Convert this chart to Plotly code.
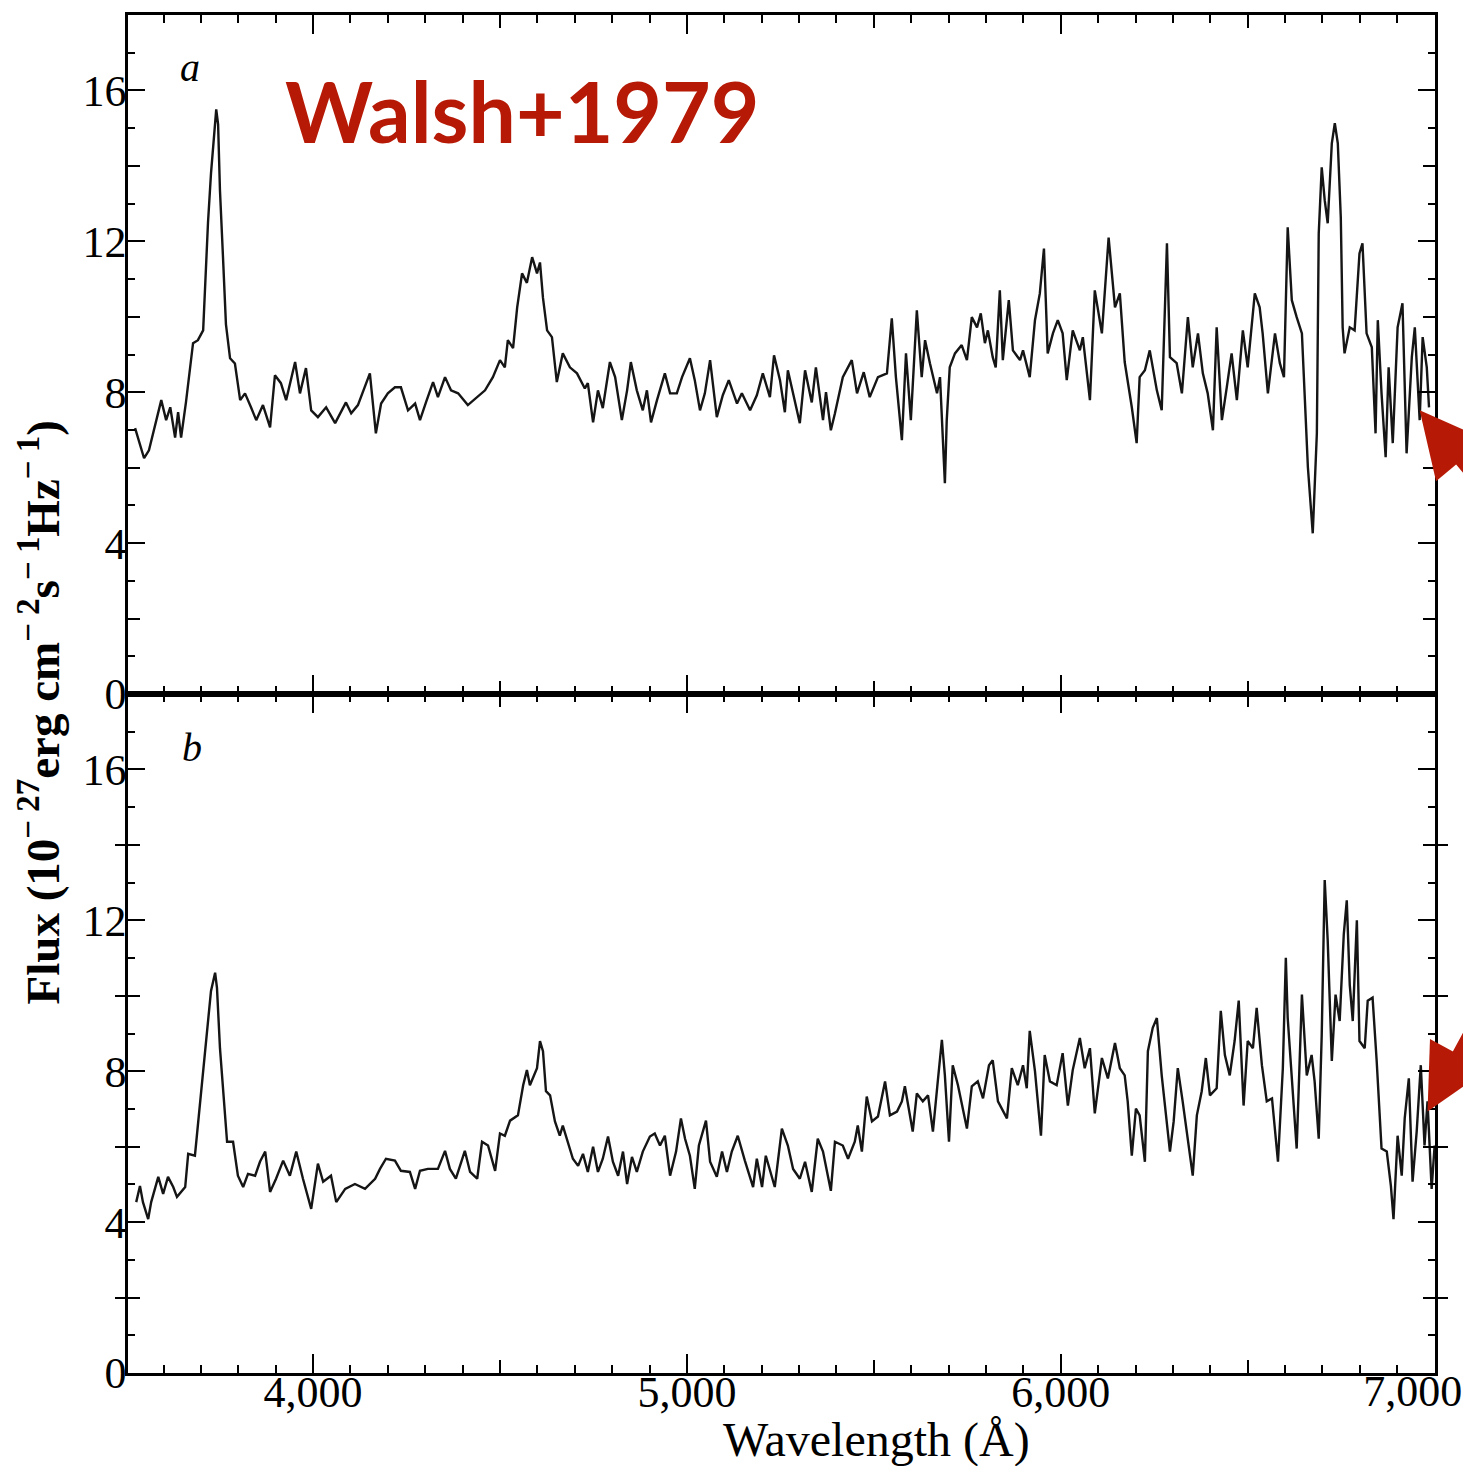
import plotly.graph_objects as go
from plotly.subplots import make_subplots

# ---- Panel a (image A) ----
wave_a = [3524, 3537, 3548, 3561, 3575, 3588, 3594, 3607, 3618, 3631, 3639, 3647, 3660, 3679, 3692,
          3706, 3711, 3719, 3727, 3735, 3741, 3746, 3751, 3759, 3767, 3778, 3791, 3805, 3818, 3834,
          3848, 3866, 3885, 3898, 3914, 3928, 3952, 3965, 3981, 3995, 4013, 4035, 4059, 4088, 4102,
          4120, 4152, 4168, 4182, 4200, 4219, 4235, 4254, 4273, 4286, 4302, 4321, 4334, 4353, 4369,
          4388, 4414, 4439, 4460, 4481, 4500, 4513, 4521, 4535, 4546, 4559, 4572, 4586, 4599, 4607,
          4615, 4626, 4639, 4652, 4668, 4687, 4706, 4727, 4735, 4749, 4762, 4775, 4794, 4808, 4826,
          4840, 4850, 4866, 4882, 4893, 4904, 4920, 4941, 4955, 4973, 4987, 5008, 5021, 5035, 5048,
          5062, 5080, 5096, 5112, 5134, 5147, 5169, 5187, 5203, 5222, 5233, 5249, 5262, 5270, 5284,
          5302, 5316, 5334, 5345, 5364, 5372, 5385, 5396, 5417, 5441, 5455, 5473, 5489, 5511, 5535,
          5548, 5559, 5575, 5586, 5599, 5615, 5628, 5637, 5650, 5669, 5677, 5685, 5690, 5695, 5703,
          5717, 5735, 5749, 5762, 5776, 5786, 5797, 5805, 5818, 5826, 5837, 5845, 5861, 5872, 5891,
          5899, 5917, 5931, 5944, 5955, 5965, 5979, 5992, 6005, 6016, 6032, 6051, 6059, 6078, 6091,
          6110, 6128, 6145, 6158, 6171, 6190, 6203, 6211, 6225, 6238, 6257, 6270, 6284, 6292, 6310,
          6324, 6340, 6353, 6367, 6380, 6393, 6407, 6417, 6431, 6444, 6457, 6471, 6487, 6500, 6519,
          6532, 6540, 6554, 6573, 6586, 6597, 6607, 6618, 6631, 6645, 6653, 6661, 6674, 6685, 6690,
          6698, 6706, 6714, 6725, 6733, 6741, 6749, 6754, 6759, 6773, 6786, 6799, 6807, 6818, 6832,
          6842, 6848, 6858, 6869, 6877, 6888, 6901, 6914, 6925, 6939, 6947, 6960, 6968, 6979, 6985]
flux_a = [7.05, 6.6, 6.25, 6.46, 7.0, 7.58, 7.79, 7.26, 7.6, 6.8, 7.47, 6.8, 7.73, 9.3, 9.38,
          9.64, 10.9, 12.5, 13.8, 14.9, 15.5, 15.1, 13.35, 11.6, 9.8, 8.9, 8.76, 7.79, 7.97, 7.6,
          7.26, 7.66, 7.07, 8.45, 8.24, 7.79, 8.8, 7.97, 8.64, 7.52, 7.34, 7.6, 7.18, 7.73, 7.44,
          7.66, 8.5, 6.91, 7.7, 7.97, 8.13, 8.13, 7.52, 7.7, 7.26, 7.73, 8.27, 7.87, 8.4, 8.05,
          7.97, 7.66, 7.87, 8.05, 8.4, 8.85, 8.66, 9.38, 9.17, 10.25, 11.15, 10.9, 11.58, 11.15, 11.44,
          10.5, 9.64, 9.46, 8.27, 9.03, 8.66, 8.5, 8.1, 8.24, 7.2, 8.05, 7.58, 8.8, 8.4, 7.26,
          8.05, 8.8, 8.05, 7.52, 8.05, 7.2, 7.79, 8.5, 7.97, 7.97, 8.4, 8.9, 8.32, 7.52, 7.97,
          8.85, 7.34, 7.92, 8.32, 7.7, 7.97, 7.52, 7.92, 8.5, 7.87, 8.98, 8.32, 7.47, 8.58, 7.97,
          7.18, 8.58, 7.73, 8.66, 7.26, 8.0, 6.99, 7.44, 8.4, 8.85, 7.97, 8.53, 7.87, 8.4, 8.5,
          9.96, 8.4, 6.73, 9.03, 7.26, 10.17, 8.4, 9.38, 8.77, 7.97, 8.4, 6.81, 5.59, 7.26, 8.66,
          9.03, 9.25, 8.85, 9.99, 9.72, 10.09, 9.3, 9.64, 8.93, 8.66, 10.7, 8.85, 10.44, 9.11, 8.85,
          9.11, 8.4, 9.91, 10.62, 11.81, 9.03, 9.56, 9.91, 9.56, 8.32, 9.64, 9.11, 9.46, 7.79, 10.7,
          9.56, 12.1, 10.25, 10.62, 8.8, 7.6, 6.65, 8.4, 8.58, 9.11, 8.05, 7.52, 11.95, 8.93, 8.77,
          7.97, 9.99, 8.66, 9.56, 8.5, 7.97, 6.99, 9.72, 7.26, 8.13, 9.03, 7.79, 9.64, 8.66, 10.62,
          10.25, 9.56, 7.97, 9.56, 8.77, 8.4, 12.37, 10.44, 9.99, 9.56, 7.79, 6.01, 4.26, 6.91, 12.2,
          13.96, 13.09, 12.48, 14.6, 15.13, 14.6, 12.64, 9.72, 9.03, 9.72, 9.64, 11.68, 11.95, 9.56, 9.19,
          6.91, 9.91, 7.97, 6.28, 8.66, 6.65, 9.72, 10.36, 6.38, 8.93, 9.72, 7.26, 9.46, 8.66, 7.6]

# ---- Panel b (image B) ----
wave_b = [3527, 3537, 3545, 3559, 3567, 3586, 3599, 3612, 3626, 3636, 3658, 3666, 3684, 3692, 3701,
          3711, 3719, 3727, 3738, 3743, 3751, 3759, 3770, 3786, 3799, 3813, 3826, 3845, 3858, 3872,
          3885, 3901, 3920, 3938, 3955, 3973, 3995, 4013, 4027, 4048, 4062, 4086, 4112, 4139, 4166,
          4179, 4195, 4219, 4235, 4259, 4273, 4286, 4307, 4334, 4353, 4366, 4382, 4406, 4420, 4439,
          4452, 4468, 4487, 4500, 4513, 4527, 4548, 4562, 4572, 4580, 4599, 4607, 4615, 4623, 4634,
          4647, 4660, 4668, 4682, 4695, 4709, 4722, 4735, 4749, 4762, 4775, 4789, 4802, 4816, 4829,
          4840, 4853, 4866, 4882, 4901, 4914, 4928, 4941, 4955, 4971, 4984, 4995, 5008, 5021, 5032,
          5051, 5062, 5080, 5094, 5107, 5120, 5136, 5155, 5177, 5187, 5201, 5211, 5235, 5254, 5270,
          5284, 5302, 5316, 5334, 5350, 5364, 5385, 5396, 5417, 5431, 5449, 5457, 5468, 5481, 5495,
          5511, 5530, 5543, 5562, 5575, 5583, 5604, 5615, 5631, 5645, 5658, 5671, 5682, 5690, 5701,
          5711, 5725, 5749, 5762, 5778, 5792, 5808, 5818, 5832, 5856, 5869, 5885, 5899, 5909, 5917,
          5931, 5947, 5957, 5971, 5989, 6005, 6019, 6032, 6051, 6064, 6078, 6091, 6110, 6126, 6145,
          6158, 6171, 6179, 6190, 6201, 6211, 6225, 6233, 6246, 6257, 6270, 6281, 6292, 6302, 6313,
          6326, 6340, 6353, 6364, 6377, 6388, 6399, 6417, 6428, 6439, 6452, 6465, 6476, 6489, 6500,
          6514, 6524, 6538, 6551, 6565, 6581, 6594, 6602, 6607, 6621, 6631, 6645, 6658, 6671, 6679,
          6690, 6698, 6706, 6714, 6725, 6735, 6746, 6757, 6765, 6773, 6781, 6792, 6799, 6813, 6821,
          6834, 6845, 6858, 6872, 6883, 6890, 6901, 6912, 6920, 6931, 6941, 6952, 6963, 6973, 6981,
          6992, 7000]
flux_b = [4.53, 4.96, 4.53, 4.08, 4.53, 5.2, 4.75, 5.2, 4.93, 4.67, 4.93, 5.81, 5.76, 6.56, 7.36,
          8.35, 9.33, 10.13, 10.61, 10.21, 8.61, 7.47, 6.13, 6.13, 5.23, 4.93, 5.28, 5.23, 5.6, 5.87,
          4.8, 5.15, 5.63, 5.23, 5.87, 5.15, 4.35, 5.55, 5.07, 5.23, 4.53, 4.88, 5.01, 4.88, 5.15,
          5.41, 5.68, 5.63, 5.36, 5.33, 4.88, 5.36, 5.41, 5.41, 5.89, 5.41, 5.15, 5.89, 5.33, 5.15,
          6.13, 6.03, 5.36, 6.35, 6.29, 6.69, 6.83, 7.63, 8.03, 7.63, 8.08, 8.8, 8.53, 7.47, 7.36,
          6.67, 6.29, 6.56, 6.13, 5.68, 5.49, 5.81, 5.33, 6.0, 5.33, 5.68, 6.27, 5.6, 5.23, 5.87,
          5.01, 5.73, 5.33, 5.87, 6.27, 6.35, 6.03, 6.29, 5.23, 5.87, 6.75, 6.21, 5.76, 4.88, 6.03,
          6.69, 5.6, 5.2, 5.87, 5.33, 5.87, 6.29, 5.63, 4.93, 5.68, 4.93, 5.76, 4.93, 6.48, 6.03,
          5.41, 5.15, 5.6, 4.8, 6.21, 5.87, 4.83, 6.13, 6.03, 5.68, 6.13, 6.56, 5.87, 7.33, 6.67,
          6.8, 7.73, 6.83, 6.93, 7.2, 7.6, 6.4, 7.41, 7.2, 7.36, 6.4, 7.73, 8.83, 7.89, 6.13,
          8.16, 7.63, 6.48, 7.6, 7.73, 7.28, 8.16, 8.29, 7.2, 6.75, 8.08, 7.63, 8.16, 7.55, 9.07,
          8.0, 6.29, 8.43, 7.73, 7.63, 8.48, 7.09, 8.03, 8.88, 8.08, 8.61, 6.88, 8.35, 7.81, 8.75,
          8.08, 7.89, 7.2, 5.76, 7.01, 6.83, 5.6, 8.53, 9.15, 9.41, 7.89, 6.83, 5.87, 6.67, 8.08,
          7.2, 6.13, 5.23, 6.83, 7.47, 8.35, 7.36, 7.55, 9.6, 8.43, 7.89, 8.8, 9.87, 7.09, 8.8,
          8.61, 9.68, 8.16, 7.2, 7.28, 5.6, 8.08, 11.01, 9.41, 7.36, 5.95, 10.03, 7.89, 8.43, 7.73,
          6.21, 8.96, 13.07, 11.47, 8.27, 10.03, 9.33, 11.63, 12.53, 10.29, 9.33, 12.0, 8.8, 8.61, 9.87,
          9.95, 8.27, 5.95, 5.87, 4.96, 4.08, 6.29, 5.23, 6.75, 7.81, 5.07, 6.4, 8.16, 6.03, 7.2,
          4.88, 6.03]

# tick labels
x_tickvals = [4000, 5000, 6000, 7000]
x_ticktext = ["4,000", "5,000", "6,000", "7,000"]
x_halfticks = [3500, 4500, 5500, 6500]
y_tickvals = [0, 4, 8, 12, 16]
y_ticktext = ["0", "4", "8", "12", "16"]
y_halfticks = [2, 6, 10, 14, 18]

X_RANGE = [3505, 7001]
Y_RANGE = [0, 18]

SERIF = "Liberation Serif"
RED = "rgb(182,26,6)"
INK = "#151515"

fig = make_subplots(rows=2, cols=1, shared_xaxes=True, vertical_spacing=0)

fig.add_trace(go.Scatter(x=wave_a, y=flux_a, mode="lines",
                         line=dict(color=INK, width=2.4), showlegend=False), row=1, col=1)
fig.add_trace(go.Scatter(x=wave_b, y=flux_b, mode="lines",
                         line=dict(color=INK, width=2.4), showlegend=False), row=2, col=1)
# empty traces that carry the overlay axes (intermediate ticks, last x label)
fig.add_trace(go.Scatter(x=[], y=[], xaxis="x3", yaxis="y3", showlegend=False, hoverinfo="skip"))
fig.add_trace(go.Scatter(x=[], y=[], xaxis="x4", yaxis="y4", showlegend=False, hoverinfo="skip"))
fig.add_trace(go.Scatter(x=[], y=[], xaxis="x5", yaxis="y4", showlegend=False, hoverinfo="skip"))

tickfont = dict(family=SERIF, size=44, color="black")

xcommon = dict(range=X_RANGE, tickmode="array",
               ticks="inside", ticklen=19, tickwidth=2, tickcolor="black",
               minor=dict(dtick=100, tick0=0, ticklen=8, tickwidth=1.5, ticks="inside", tickcolor="black"),
               showline=True, linewidth=2.5, linecolor="black", mirror="allticks",
               showgrid=False, zeroline=False, automargin=False,
               ticklabelstandoff=-22, ticklabeloverflow="allow", tickfont=tickfont)
ycommon = dict(range=Y_RANGE, tickmode="array", tickvals=y_tickvals, ticktext=y_ticktext,
               ticks="inside", ticklen=17, tickwidth=2, tickcolor="black",
               minor=dict(dtick=1, tick0=0, ticklen=7, tickwidth=1.5, ticks="inside", tickcolor="black"),
               showline=True, linewidth=2.5, linecolor="black", mirror="allticks",
               showgrid=False, zeroline=False, automargin=False,
               ticklabelstandoff=-10, ticklabeloverflow="allow", tickfont=tickfont)

fig.update_xaxes(**xcommon)
fig.update_xaxes(tickvals=x_tickvals, ticktext=x_ticktext, showticklabels=False, row=1, col=1)
# bottom axis: the last label is drawn by its own overlay axis so it can be nudged inwards
fig.update_xaxes(tickvals=x_tickvals[:-1], ticktext=x_ticktext[:-1], showticklabels=True, row=2, col=1)
fig.update_yaxes(**ycommon)

half_x = dict(range=X_RANGE, tickmode="array", tickvals=x_halfticks, ticks="inside", ticklen=13,
              tickwidth=2, tickcolor="black", showticklabels=False, showline=False,
              showgrid=False, zeroline=False, mirror="allticks", automargin=False)
half_y = dict(range=Y_RANGE, tickmode="array", tickvals=y_halfticks, ticks="inside", ticklen=12,
              tickwidth=2, tickcolor="black", showticklabels=False, showline=False,
              showgrid=False, zeroline=False, mirror="allticks", automargin=False)

fig.update_layout(
    xaxis3=dict(overlaying="x", anchor="y3", **half_x),
    yaxis3=dict(overlaying="y", anchor="x3", **half_y),
    xaxis4=dict(overlaying="x2", anchor="y4", **half_x),
    yaxis4=dict(overlaying="y2", anchor="x4", **half_y),
    xaxis5=dict(overlaying="x2", anchor="y4", range=X_RANGE, tickmode="array",
                tickvals=x_tickvals[-1:], ticktext=x_ticktext[-1:], ticks="inside", ticklen=19,
                tickwidth=2, tickcolor="black", showline=False, showgrid=False, zeroline=False,
                mirror="allticks", automargin=False, ticklabelstandoff=-12, ticklabelshift=-22,
                ticklabeloverflow="allow", tickfont=tickfont),
)

fig.update_layout(
    width=1463, height=1458,
    margin=dict(l=120, r=36, t=7, b=93),
    paper_bgcolor="white", plot_bgcolor="white",
    showlegend=False,
    annotations=[
        dict(text="Walsh+1979", xref="paper", yref="paper", x=0.302, y=0.9295,
             showarrow=False, font=dict(family="Lato", size=84, color=RED, weight="bold"),
             xanchor="center", yanchor="middle"),
        dict(text="<i>a</i>", xref="paper", yref="paper", x=0.0474, y=0.961,
             showarrow=False, font=dict(family=SERIF, size=40, color="black"),
             xanchor="center", yanchor="middle"),
        dict(text="<i>b</i>", xref="paper", yref="paper", x=0.049, y=0.4603,
             showarrow=False, font=dict(family=SERIF, size=40, color="black"),
             xanchor="center", yanchor="middle"),
        dict(text="Flux (10<sup>− 27</sup>erg cm<sup>− 2</sup>s<sup>− 1</sup>Hz<sup>− 1</sup>)",
             xref="paper", yref="paper", x=-0.068, y=0.4865, textangle=-90,
             showarrow=False, font=dict(family=SERIF, size=47, color="black", weight="bold"),
             xanchor="center", yanchor="middle"),
        dict(text="Wavelength (Å)", xref="paper", yref="paper", x=0.573, y=-0.049,
             showarrow=False, font=dict(family=SERIF, size=48, color="black"),
             xanchor="center", yanchor="middle"),
        dict(text="", xref="x", yref="y", x=6960, y=7.52, ax=75, ay=62,
             showarrow=True, arrowhead=2, arrowsize=1, arrowwidth=13, arrowcolor=RED),
        dict(text="", xref="x2", yref="y2", x=6981, y=6.93, ax=68, ay=-80,
             showarrow=True, arrowhead=2, arrowsize=1, arrowwidth=13, arrowcolor=RED),
    ],
)

fig.write_html("out.html")
